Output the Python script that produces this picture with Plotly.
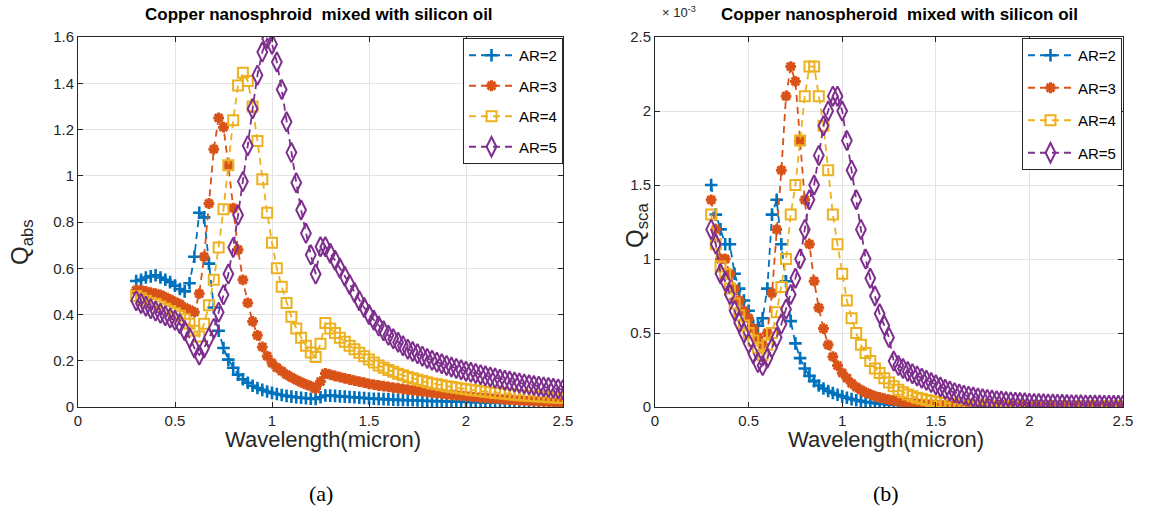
import plotly.graph_objects as go

# ---------------- data ----------------
WAVELENGTH = [
    0.300, 0.325, 0.350, 0.375, 0.400, 0.425, 0.450, 0.475, 0.500, 0.525,
    0.550, 0.575, 0.600, 0.625, 0.650, 0.675, 0.700, 0.725, 0.750, 0.775,
    0.800, 0.825, 0.850, 0.875, 0.900, 0.925, 0.950, 0.975, 1.000, 1.025,
    1.050, 1.075, 1.100, 1.125, 1.150, 1.175, 1.200, 1.225, 1.250, 1.275,
    1.300, 1.325, 1.350, 1.375, 1.400, 1.425, 1.450, 1.475, 1.500, 1.525,
    1.550, 1.575, 1.600, 1.625, 1.650, 1.675, 1.700, 1.725, 1.750, 1.775,
    1.800, 1.825, 1.850, 1.875, 1.900, 1.925, 1.950, 1.975, 2.000, 2.025,
    2.050, 2.075, 2.100, 2.125, 2.150, 2.175, 2.200, 2.225, 2.250, 2.275,
    2.300, 2.325, 2.350, 2.375, 2.400, 2.425, 2.450, 2.475, 2.500,
]

# Absorption efficiency Q_abs (panel a)
QABS_AR2 = [
    0.545, 0.550, 0.560, 0.565, 0.570, 0.560, 0.550, 0.540, 0.525, 0.510,
    0.500, 0.535, 0.650, 0.840, 0.820, 0.620, 0.430, 0.330, 0.255, 0.205,
    0.170, 0.140, 0.120, 0.105, 0.092, 0.082, 0.074, 0.067, 0.061, 0.056,
    0.052, 0.048, 0.045, 0.042, 0.040, 0.038, 0.036, 0.035, 0.042, 0.050,
    0.049, 0.048, 0.046, 0.045, 0.043, 0.042, 0.040, 0.039, 0.037, 0.036,
    0.035, 0.034, 0.033, 0.032, 0.031, 0.030, 0.029, 0.029, 0.028, 0.027,
    0.026, 0.026, 0.025, 0.025, 0.024, 0.024, 0.023, 0.023, 0.022, 0.022,
    0.021, 0.021, 0.020, 0.020, 0.019, 0.019, 0.018, 0.018, 0.017, 0.017,
    0.016, 0.016, 0.016, 0.015, 0.015, 0.015, 0.014, 0.014, 0.014,
]
QABS_AR3 = [
    0.505, 0.505, 0.500, 0.495, 0.490, 0.485, 0.475, 0.465, 0.455, 0.445,
    0.430, 0.420, 0.410, 0.490, 0.650, 0.880, 1.115, 1.250, 1.210, 1.045,
    0.860, 0.680, 0.550, 0.450, 0.370, 0.310, 0.260, 0.220, 0.190, 0.170,
    0.155, 0.140, 0.128, 0.117, 0.107, 0.098, 0.090, 0.080, 0.110, 0.145,
    0.140, 0.134, 0.129, 0.124, 0.119, 0.114, 0.110, 0.105, 0.100, 0.097,
    0.093, 0.090, 0.087, 0.084, 0.081, 0.078, 0.075, 0.072, 0.070, 0.067,
    0.065, 0.062, 0.060, 0.058, 0.055, 0.053, 0.051, 0.049, 0.047, 0.045,
    0.043, 0.041, 0.040, 0.038, 0.036, 0.035, 0.033, 0.032, 0.030, 0.029,
    0.028, 0.027, 0.025, 0.024, 0.023, 0.022, 0.021, 0.020, 0.019,
]
QABS_AR4 = [
    0.480, 0.470, 0.460, 0.450, 0.445, 0.435, 0.425, 0.415, 0.405, 0.395,
    0.380, 0.360, 0.330, 0.305, 0.360, 0.440, 0.550, 0.690, 0.855, 1.045,
    1.240, 1.390, 1.445, 1.410, 1.300, 1.150, 0.985, 0.840, 0.710, 0.600,
    0.520, 0.450, 0.390, 0.340, 0.300, 0.265, 0.236, 0.216, 0.273, 0.363,
    0.340, 0.320, 0.300, 0.282, 0.265, 0.250, 0.235, 0.220, 0.205, 0.192,
    0.180, 0.170, 0.160, 0.152, 0.144, 0.137, 0.130, 0.124, 0.118, 0.112,
    0.107, 0.102, 0.098, 0.094, 0.090, 0.087, 0.083, 0.080, 0.077, 0.074,
    0.071, 0.069, 0.066, 0.064, 0.061, 0.059, 0.057, 0.055, 0.053, 0.051,
    0.050, 0.048, 0.047, 0.045, 0.044, 0.042, 0.041, 0.040, 0.039,
]
QABS_AR5 = [
    0.460, 0.448, 0.436, 0.425, 0.415, 0.405, 0.395, 0.385, 0.375, 0.360,
    0.330, 0.300, 0.255, 0.225, 0.255, 0.300, 0.340, 0.410, 0.485, 0.575,
    0.690, 0.830, 0.975, 1.130, 1.290, 1.435, 1.535, 1.593, 1.569, 1.492,
    1.373, 1.233, 1.100, 0.970, 0.852, 0.751, 0.658, 0.575, 0.693, 0.693,
    0.665, 0.635, 0.600, 0.565, 0.530, 0.495, 0.460, 0.430, 0.400, 0.375,
    0.350, 0.330, 0.310, 0.295, 0.280, 0.265, 0.250, 0.240, 0.230, 0.220,
    0.210, 0.202, 0.194, 0.187, 0.180, 0.173, 0.167, 0.161, 0.155, 0.150,
    0.145, 0.140, 0.135, 0.130, 0.125, 0.120, 0.116, 0.112, 0.108, 0.104,
    0.100, 0.096, 0.093, 0.090, 0.087, 0.084, 0.081, 0.078, 0.075,
]

# Scattering efficiency Q_sca in units of 1e-3 (panel b)
QSCA_AR2 = [
    1.500, 1.300, 1.200, 1.100, 1.100, 0.900, 0.800, 0.720, 0.650, 0.550,
    0.550, 0.600, 0.800, 1.300, 1.400, 1.100, 0.850, 0.580, 0.430, 0.330,
    0.260, 0.210, 0.175, 0.145, 0.125, 0.108, 0.095, 0.083, 0.072, 0.062,
    0.053, 0.046, 0.040, 0.034, 0.030, 0.026, 0.023, 0.020, 0.018, 0.016,
    0.014, 0.013, 0.012, 0.011, 0.010, 0.009, 0.009, 0.008, 0.008, 0.007,
    0.007, 0.007, 0.006, 0.006, 0.006, 0.005, 0.005, 0.005, 0.005, 0.005,
    0.004, 0.004, 0.004, 0.004, 0.004, 0.004, 0.004, 0.004, 0.004, 0.004,
    0.004, 0.004, 0.003, 0.003, 0.003, 0.003, 0.003, 0.003, 0.003, 0.003,
    0.003, 0.003, 0.003, 0.003, 0.003, 0.003, 0.003, 0.003, 0.003,
]
QSCA_AR3 = [
    1.400, 1.200, 1.000, 1.000, 0.900, 0.800, 0.720, 0.650, 0.600, 0.530,
    0.470, 0.420, 0.500, 0.770, 1.200, 1.600, 2.100, 2.300, 2.200, 1.800,
    1.400, 1.100, 0.850, 0.670, 0.530, 0.420, 0.340, 0.280, 0.230, 0.195,
    0.160, 0.135, 0.115, 0.098, 0.085, 0.074, 0.065, 0.057, 0.050, 0.044,
    0.039, 0.034, 0.030, 0.027, 0.024, 0.021, 0.019, 0.017, 0.015, 0.014,
    0.013, 0.012, 0.011, 0.010, 0.009, 0.009, 0.008, 0.008, 0.007, 0.007,
    0.007, 0.006, 0.006, 0.006, 0.006, 0.005, 0.005, 0.005, 0.005, 0.005,
    0.004, 0.004, 0.004, 0.004, 0.004, 0.004, 0.004, 0.004, 0.004, 0.004,
    0.004, 0.004, 0.004, 0.004, 0.004, 0.003, 0.003, 0.003, 0.003,
]
QSCA_AR4 = [
    1.300, 1.100, 0.950, 0.900, 0.800, 0.700, 0.620, 0.550, 0.500, 0.450,
    0.400, 0.350, 0.420, 0.500, 0.640, 0.810, 1.000, 1.300, 1.500, 1.800,
    2.100, 2.300, 2.300, 2.100, 1.900, 1.600, 1.300, 1.100, 0.900, 0.720,
    0.600, 0.500, 0.420, 0.365, 0.310, 0.260, 0.230, 0.195, 0.165, 0.140,
    0.117, 0.100, 0.085, 0.073, 0.063, 0.055, 0.048, 0.041, 0.036, 0.031,
    0.027, 0.024, 0.021, 0.019, 0.017, 0.015, 0.013, 0.012, 0.011, 0.010,
    0.009, 0.008, 0.008, 0.007, 0.007, 0.006, 0.006, 0.006, 0.005, 0.005,
    0.005, 0.005, 0.005, 0.004, 0.004, 0.004, 0.004, 0.004, 0.004, 0.004,
    0.004, 0.004, 0.004, 0.003, 0.003, 0.003, 0.003, 0.003, 0.003,
]
QSCA_AR5 = [
    1.200, 1.100, 0.900, 0.850, 0.760, 0.650, 0.570, 0.500, 0.430, 0.360,
    0.300, 0.280, 0.330, 0.400, 0.470, 0.560, 0.660, 0.760, 0.870, 1.000,
    1.200, 1.400, 1.500, 1.700, 1.900, 2.000, 2.100, 2.100, 2.000, 1.800,
    1.600, 1.400, 1.200, 1.000, 0.870, 0.750, 0.630, 0.550, 0.470, 0.310,
    0.280, 0.260, 0.240, 0.225, 0.210, 0.195, 0.180, 0.165, 0.150, 0.135,
    0.120, 0.108, 0.097, 0.088, 0.080, 0.073, 0.067, 0.061, 0.056, 0.051,
    0.047, 0.043, 0.040, 0.037, 0.034, 0.032, 0.030, 0.028, 0.026, 0.024,
    0.023, 0.022, 0.021, 0.020, 0.019, 0.018, 0.017, 0.016, 0.016, 0.015,
    0.014, 0.014, 0.013, 0.013, 0.012, 0.012, 0.011, 0.011, 0.011,
]

SERIES_NAMES = ["AR=2", "AR=3", "AR=4", "AR=5"]
X_TICKS = [0, 0.5, 1, 1.5, 2, 2.5]
YA_TICKS = [0, 0.2, 0.4, 0.6, 0.8, 1, 1.2, 1.4, 1.6]
YB_TICKS = [0, 0.5, 1, 1.5, 2, 2.5]

# ---------------- style ----------------
COLORS = ["#0072BD", "#D95319", "#EDB120", "#7E2F8E"]
SYMBOLS = ["cross-thin-open", "asterisk-open", "square-open", "diamond-tall-open"]
SIZES = [9, 9, 10, 14]
MLW = [2.6, 3.0, 2.0, 2.0]

W, H = 1157, 515
def px(x):
    return x / W
def py(y):
    return 1 - y / H

FONT = "Liberation Sans"
TXT = "#262626"

fig = go.Figure()

panel_a = [QABS_AR2, QABS_AR3, QABS_AR4, QABS_AR5]
panel_b = [QSCA_AR2, QSCA_AR3, QSCA_AR4, QSCA_AR5]

for k in range(4):
    fig.add_trace(go.Scatter(
        x=WAVELENGTH, y=panel_a[k], name=SERIES_NAMES[k], mode="lines+markers",
        xaxis="x", yaxis="y", legend="legend", legendgroup="a%d" % k,
        line=dict(color=COLORS[k], width=1.8, dash="7px,5px"),
        marker=dict(symbol=SYMBOLS[k], size=SIZES[k], color=COLORS[k],
                    line=dict(color=COLORS[k], width=MLW[k])),
    ))
for k in range(4):
    fig.add_trace(go.Scatter(
        x=WAVELENGTH, y=panel_b[k], name=SERIES_NAMES[k], mode="lines+markers",
        xaxis="x2", yaxis="y2", legend="legend2", legendgroup="b%d" % k,
        line=dict(color=COLORS[k], width=1.8, dash="7px,5px"),
        marker=dict(symbol=SYMBOLS[k], size=SIZES[k], color=COLORS[k],
                    line=dict(color=COLORS[k], width=MLW[k])),
    ))

axis_common = dict(
    showline=True, linecolor=TXT, linewidth=1, mirror="allticks",
    ticks="inside", ticklen=5, tickcolor=TXT, tickwidth=1,
    showgrid=True, gridcolor="#e3e3e3", gridwidth=1, zeroline=False,
    automargin=False,
    tickfont=dict(family=FONT, size=15, color=TXT),
)

left_x = (78, 563)
right_x = (655, 1123)
top_y, bot_y = 37, 407

fig.update_layout(
    width=W, height=H, autosize=False,
    margin=dict(l=0, r=0, t=0, b=0, pad=0),
    paper_bgcolor="white", plot_bgcolor="white",
    xaxis=dict(domain=[px(left_x[0]), px(left_x[1])], range=[0, 2.5],
               tickvals=X_TICKS, anchor="y", **axis_common),
    yaxis=dict(domain=[py(bot_y), py(top_y)], range=[0, 1.6],
               tickvals=YA_TICKS, anchor="x", **axis_common),
    xaxis2=dict(domain=[px(right_x[0]), px(right_x[1])], range=[0, 2.5],
                tickvals=X_TICKS, anchor="y2", **axis_common),
    yaxis2=dict(domain=[py(bot_y), py(top_y)], range=[0, 2.5],
                tickvals=YB_TICKS, anchor="x2", **axis_common),
    legend=dict(x=px(563), y=py(38), xanchor="right", yanchor="top",
                bgcolor="white", bordercolor=TXT, borderwidth=1,
                font=dict(family=FONT, size=15, color="black"),
                tracegroupgap=8, itemwidth=45),
    legend2=dict(x=px(1122), y=py(38), xanchor="right", yanchor="top",
                 bgcolor="white", bordercolor=TXT, borderwidth=1,
                 font=dict(family=FONT, size=15, color="black"),
                 tracegroupgap=10, itemwidth=45),
    showlegend=True,
)

ann = []
def add_text(x, y, text, size, family=FONT, color="black", angle=0, bold=False):
    if bold:
        text = "<b>" + text + "</b>"
    ann.append(dict(x=px(x), y=py(y), xref="paper", yref="paper", text=text,
                    showarrow=False, xanchor="center", yanchor="middle",
                    textangle=angle, font=dict(family=family, size=size, color=color)))

add_text(319, 15, "Copper nanosphroid\u00a0 mixed with silicon oil", 17, bold=True)
add_text(899, 15, "Copper nanospheroid\u00a0 mixed with silicon oil", 17, bold=True)
add_text(323, 439, "Wavelength(micron)", 22, color=TXT)
add_text(886, 439, "Wavelength(micron)", 22, color=TXT)
add_text(22, 242, "Q<sub>abs</sub>", 24, color=TXT, angle=-90)
add_text(636, 226, "Q<sub>sca</sub>", 24, color=TXT, angle=-90)
add_text(679, 12, "\u00d7 10<sup>-3</sup>", 13, color=TXT)
add_text(321, 493, "(a)", 22, family="Liberation Serif")
add_text(886, 493, "(b)", 22, family="Liberation Serif")

fig.update_layout(annotations=ann)

fig.write_html(
    "out.html",
    post_script="document.body.style.margin='0';document.body.style.overflow='hidden';",
)
